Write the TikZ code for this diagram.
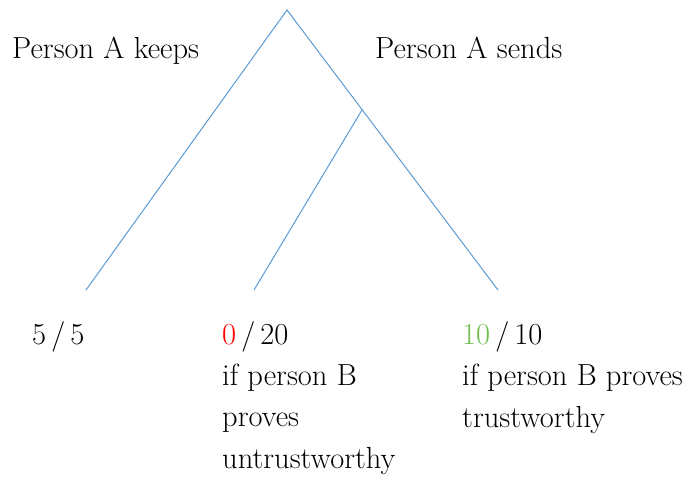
\documentclass[tikz,border=0pt]{standalone}
\usepackage{tikz}
\usetikzlibrary{positioning, calc}

\definecolor{linieblau}{RGB}{91,155,213}
\definecolor{gruen}{RGB}{112,190,80}

\begin{document}
\begin{tikzpicture}[x=1pt, y=-1pt,
        ast/.style={linieblau, line width=1pt},
        txt/.style={inner sep=0pt, anchor=base west, align=left,
            font=\fontsize{30.5}{41.3}\selectfont}]
        \useasboundingbox (0, 0) rectangle (692, 479);

        % Baum
        \coordinate (spitze) at (287, 10);
        \coordinate (links) at (86, 290);
        \coordinate (rechts) at (498, 290);
        \coordinate (gabel) at (362, 110);
        \coordinate (mitte) at (254, 290);

        \draw[ast] (links) -- (spitze) -- (rechts);
        \draw[ast] (gabel) -- (mitte);

        % Zweige
        \node[txt] (keeps) at (12, 58) {Person A keeps};
        \node[txt] (sends) at (375, 58) {Person A sends};

        % Auszahlungen (Anker = Grundlinie der letzten Zeile)
        \node[txt] (aus1) at (32, 344) {5\,/\,5};
        \node[txt] (aus2) at (222, 468) {\textcolor{red}{0}\,/\,20\\if person B\\proves\\untrustworthy};
        \node[txt] (aus3) at (462, 427) {\textcolor{gruen}{10}\,/\,10\\if person B proves\\trustworthy};
\end{tikzpicture}
\end{document}
